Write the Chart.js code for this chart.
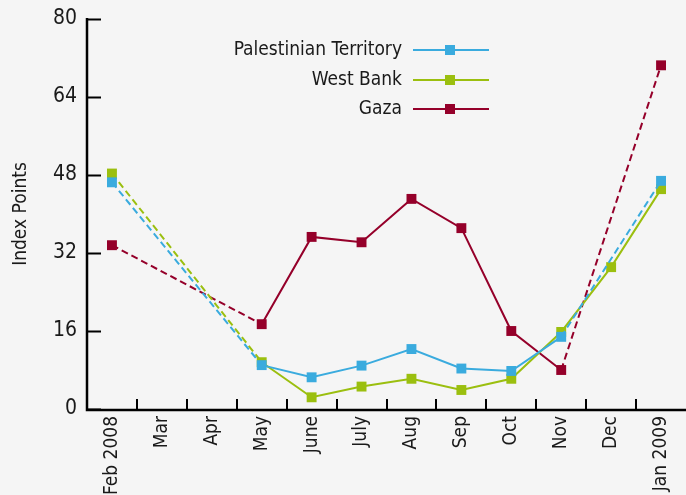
<!DOCTYPE html>
<html>
<head>
<meta charset="utf-8">
<script src="https://cdn.jsdelivr.net/npm/chart.js@4/dist/chart.umd.min.js"></script>
<style>
  html, body { margin: 0; padding: 0; background: #f5f5f5; }
  #wrap { width: 686px; height: 495px; }
</style>
</head>
<body>
<div id="wrap"><canvas id="indexChart" width="686" height="495"></canvas></div>
<script>
// months (Feb 2008 - Jan 2009)
const months = ['Feb 2008', 'Mar', 'Apr', 'May', 'June', 'July', 'Aug', 'Sep', 'Oct', 'Nov', 'Dec', 'Jan 2009'];

// index values, null = no survey that month (line dashed across the gap)
const palestinianTerritory = [46.5, null, null, 9.0, 6.5, 8.9, 12.3, 8.3, 7.8, 14.8, null, 46.8];
const westBank             = [48.3, null, null, 9.6, 2.4, 4.6, 6.2, 3.9, 6.2, 15.8, 29.1, 45.1];
const gaza                 = [33.6, null, null, 17.4, 35.3, 34.2, 43.1, 37.1, 16.0, 8.0, null, 70.5];

const yTicks = [0, 16, 32, 48, 64, 80];

const FONT = "'Liberation Sans Narrow', 'DejaVu Sans Condensed', 'Roboto', sans-serif";
const TEXT = '#1a1a1a';

// dashed where the line jumps over missing months
const dashGap = (ctx) => (ctx.p0.skip || ctx.p1.skip) ? [7, 4] : undefined;

function series(label, data, color) {
    return {
        label: label,
        data: data,
        borderColor: color,
        backgroundColor: color,
        borderWidth: 2,
        pointStyle: 'rect',
        pointRadius: 7,
        pointHoverRadius: 7,
        pointBorderWidth: 0,
        tension: 0,
        spanGaps: true,
        clip: false,
        segment: { borderDash: dashGap }
    };
}

// background + hand drawn axes with inward ticks
const axesPlugin = {
    id: 'axesPlugin',
    beforeDraw(chart) {
        const c = chart.ctx;
        c.save();
        c.fillStyle = '#f5f5f5';
        c.fillRect(0, 0, chart.width, chart.height);
        c.restore();
    },
    afterDatasetsDraw(chart) {
        const c = chart.ctx;
        const x = chart.scales.x, y = chart.scales.y;
        const area = chart.chartArea;
        c.save();
        c.strokeStyle = '#000';
        c.lineCap = 'butt';
        // axes
        c.lineWidth = 2.5;
        c.beginPath();
        c.moveTo(area.left, y.getPixelForValue(80) - 1);
        c.lineTo(area.left, area.bottom + 1);
        c.lineTo(area.right, area.bottom + 1);
        c.stroke();
        // y ticks
        c.lineWidth = 2;
        yTicks.forEach(v => {
            const py = Math.round(y.getPixelForValue(v)) + 0.5;
            c.beginPath();
            c.moveTo(area.left, py);
            c.lineTo(area.left + 14, py);
            c.stroke();
        });
        // x ticks between months
        for (let i = 1; i < months.length; i++) {
            const px = Math.round(x.getPixelForValue(i - 0.5));
            c.beginPath();
            c.moveTo(px, area.bottom);
            c.lineTo(px, area.bottom - 10);
            c.stroke();
        }
        c.restore();
    }
};

// legend in the upper middle: label, then line with a square marker
const legendPlugin = {
    id: 'legendPlugin',
    afterDraw(chart) {
        const c = chart.ctx;
        const rows = [50, 80, 109];
        c.save();
        c.font = '19px ' + FONT;
        c.textAlign = 'right';
        c.textBaseline = 'middle';
        chart.data.datasets.forEach((ds, i) => {
            const yy = rows[i];
            c.fillStyle = TEXT;
            c.fillText(ds.label, 402, yy);
            c.strokeStyle = ds.borderColor;
            c.lineWidth = 2;
            c.beginPath();
            c.moveTo(413, yy);
            c.lineTo(489, yy);
            c.stroke();
            c.fillStyle = ds.borderColor;
            c.fillRect(445, yy - 5, 10, 10);
        });
        c.restore();
    }
};

const ctx = document.getElementById('indexChart').getContext('2d');
const indexChart = new Chart(ctx, {
    type: 'line',
    data: {
        labels: months,
        datasets: [
            series('Palestinian Territory', palestinianTerritory, '#3aabde'),
            series('West Bank', westBank, '#9bbf0f'),
            series('Gaza', gaza, '#95002a')
        ]
    },
    options: {
        responsive: false,
        animation: false,
        devicePixelRatio: 1,
        layout: { autoPadding: false, padding: { top: 19, right: 0, left: 0, bottom: 0 } },
        plugins: {
            legend: { display: false },
            tooltip: { enabled: false }
        },
        scales: {
            x: {
                offset: true,
                grid: { display: false, drawTicks: false },
                border: { display: false },
                ticks: {
                    color: TEXT,
                    font: { family: FONT, size: 19 },
                    minRotation: 90,
                    maxRotation: 90,
                    autoSkip: false,
                    padding: 7
                },
                afterFit(scale) {
                    scale.height = 86;
                    scale.paddingLeft = 0;
                    scale.paddingRight = 0;
                }
            },
            y: {
                min: 0,
                max: 80,
                afterBuildTicks(scale) { scale.ticks = yTicks.map(v => ({ value: v })); },
                grid: { display: false, drawTicks: false },
                border: { display: false },
                ticks: {
                    color: TEXT,
                    font: { family: FONT, size: 21 },
                    padding: 10
                },
                title: {
                    display: true,
                    text: 'Index Points',
                    color: TEXT,
                    font: { family: FONT, size: 19 },
                    padding: { top: 10, bottom: 0 }
                },
                afterFit(scale) {
                    scale.width = 87;
                    scale.paddingTop = 0;
                    scale.paddingBottom = 0;
                }
            }
        }
    },
    plugins: [axesPlugin, legendPlugin]
});
</script>
</body>
</html>
